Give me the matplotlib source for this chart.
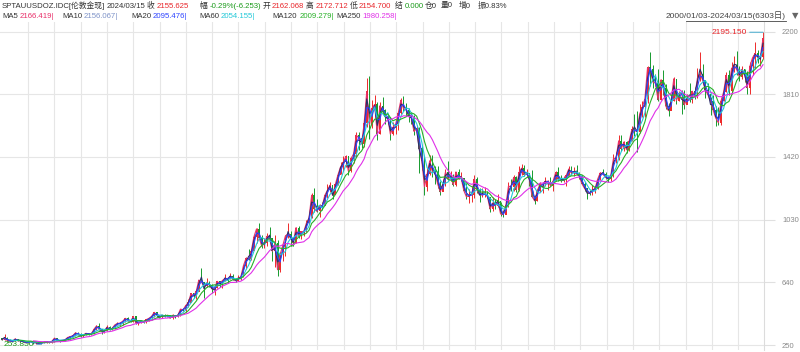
import numpy as np
import pandas as pd
import matplotlib
matplotlib.use('Agg')
import matplotlib.pyplot as plt
from matplotlib.lines import Line2D

# ---------------- data (monthly OHLC, 2000-01 .. 2024-03) -------------
months = pd.period_range('2000-01', '2024-03', freq='M')

close = [
    283, 293, 278, 275, 272, 288, 276, 277, 273, 264, 269, 272,
    265, 267, 258, 264, 267, 270, 266, 273, 293, 279, 275, 279,
    282, 297, 302, 308, 326, 318, 305, 312, 323, 317, 318, 347,
    368, 348, 335, 337, 361, 346, 354, 375, 384, 386, 398, 416,
    401, 396, 426, 387, 393, 395, 391, 408, 416, 428, 453, 438,
    422, 436, 428, 435, 417, 435, 429, 434, 473, 469, 495, 513,
    569, 556, 582, 654, 643, 614, 633, 623, 599, 604, 646, 632,
    651, 665, 662, 679, 659, 650, 666, 673, 743, 789, 783, 834,
    923, 972, 916, 864, 885, 926, 912, 833, 880, 718, 814, 869,
    928, 942, 916, 883, 979, 927, 955, 955, 1008, 1040, 1182, 1096,
    1081, 1118, 1113, 1180, 1212, 1244, 1181, 1247, 1307, 1357, 1386, 1421,
    1332, 1410, 1439, 1556, 1536, 1500, 1628, 1826, 1620, 1722, 1746, 1564,
    1738, 1710, 1669, 1664, 1561, 1604, 1622, 1693, 1772, 1719, 1712, 1675,
    1664, 1578, 1596, 1472, 1393, 1234, 1312, 1396, 1327, 1323, 1253, 1202,
    1244, 1326, 1284, 1296, 1246, 1327, 1282, 1287, 1210, 1171, 1183, 1184,
    1283, 1213, 1183, 1184, 1190, 1172, 1095, 1134, 1115, 1142, 1065, 1061,
    1118, 1238, 1234, 1293, 1215, 1322, 1350, 1309, 1316, 1277, 1173, 1146,
    1211, 1249, 1249, 1268, 1268, 1242, 1269, 1322, 1280, 1271, 1275, 1303,
    1345, 1318, 1325, 1315, 1299, 1253, 1224, 1201, 1192, 1215, 1222, 1282,
    1321, 1313, 1292, 1284, 1305, 1409, 1413, 1520, 1472, 1513, 1464, 1517,
    1589, 1585, 1577, 1687, 1730, 1781, 1975, 1968, 1886, 1879, 1776, 1898,
    1848, 1734, 1707, 1769, 1906, 1770, 1814, 1813, 1743, 1783, 1774, 1829,
    1797, 1909, 1937, 1897, 1837, 1807, 1766, 1711, 1661, 1633, 1768, 1824,
    1928, 1827, 1969, 1990, 1962, 1919, 1965, 1940, 1849, 1983, 2036, 2063,
    2039, 2044, 2155.625,
]

high = [
    292, 316, 298, 290, 280, 294, 290, 280, 277, 274, 271, 274,
    272, 268, 268, 266, 275, 272, 270, 275, 296, 293, 280, 281,
    284, 299, 304, 310, 328, 330, 322, 315, 327, 325, 322, 350,
    372, 389, 352, 341, 373, 367, 359, 376, 390, 391, 399, 417,
    427, 409, 428, 428, 396, 398, 404, 410, 418, 434, 455, 457,
    429, 438, 445, 438, 436, 441, 429, 446, 473, 478, 496, 538,
    572, 572, 586, 654, 730, 642, 664, 650, 632, 610, 649, 649,
    657, 690, 672, 695, 692, 667, 683, 679, 744, 795, 845, 838,
    935, 975, 1011, 934, 918, 944, 986, 917, 935, 905, 826, 880,
    934, 1006, 958, 920, 982, 990, 960, 960, 1025, 1072, 1195, 1226,
    1161, 1128, 1138, 1182, 1249, 1265, 1208, 1251, 1308, 1388, 1424, 1431,
    1424, 1412, 1448, 1575, 1577, 1556, 1632, 1913, 1921, 1772, 1804, 1763,
    1763, 1792, 1717, 1678, 1665, 1640, 1628, 1693, 1788, 1796, 1755, 1723,
    1694, 1683, 1617, 1604, 1487, 1424, 1348, 1434, 1434, 1361, 1362, 1267,
    1280, 1345, 1392, 1331, 1315, 1327, 1345, 1324, 1287, 1255, 1221, 1239,
    1307, 1297, 1224, 1224, 1232, 1205, 1171, 1170, 1157, 1191, 1142, 1088,
    1127, 1263, 1283, 1306, 1303, 1362, 1375, 1367, 1344, 1318, 1338, 1183,
    1220, 1264, 1261, 1295, 1274, 1296, 1270, 1331, 1357, 1306, 1299, 1307,
    1366, 1361, 1356, 1369, 1326, 1309, 1266, 1221, 1214, 1243, 1237, 1284,
    1326, 1346, 1324, 1301, 1306, 1439, 1453, 1555, 1557, 1519, 1516, 1525,
    1611, 1689, 1704, 1747, 1765, 1789, 1984, 2075, 1992, 1933, 1966, 1906,
    1959, 1872, 1756, 1798, 1916, 1903, 1832, 1834, 1836, 1814, 1877, 1830,
    1853, 1975, 2070, 1998, 1870, 1879, 1790, 1807, 1735, 1730, 1786, 1833,
    1949, 1960, 2009, 2049, 2079, 1984, 1987, 1966, 1953, 2009, 2052, 2135,
    2088, 2052, 2195.150,
]

low = [
    280, 282, 275, 272, 270, 272, 275, 270, 266, 263, 262, 267,
    255, 255, 256, 253.850, 262, 264, 263, 264, 271, 272, 270, 272,
    277, 281, 289, 299, 306, 312, 301, 301, 312, 312, 314, 317,
    343, 345, 319, 324, 337, 343, 342, 351, 373, 370, 375, 396,
    399, 393, 394, 381, 372, 386, 387, 389, 399, 411, 423, 425,
    416, 418, 426, 423, 415, 414, 417, 426, 433, 459, 456, 489,
    516, 541, 537, 583, 644, 543, 608, 613, 573, 560, 604, 612,
    603, 646, 635, 662, 654, 640, 648, 653, 671, 722, 776, 778,
    846, 882, 907, 853, 851, 867, 902, 772, 736, 681, 705, 770,
    802, 918, 865, 865, 883, 918, 908, 931, 951, 1003, 1039, 1075,
    1076, 1045, 1087, 1123, 1166, 1203, 1157, 1192, 1243, 1313, 1331, 1357,
    1309, 1328, 1381, 1420, 1462, 1478, 1482, 1603, 1534, 1600, 1668, 1523,
    1564, 1688, 1627, 1627, 1527, 1554, 1564, 1588, 1686, 1703, 1672, 1636,
    1626, 1555, 1562, 1321, 1338, 1180, 1207, 1310, 1292, 1251, 1227, 1180,
    1224, 1242, 1277, 1268, 1240, 1240, 1281, 1273, 1206, 1160, 1131, 1142,
    1167, 1198, 1142, 1170, 1170, 1162, 1077, 1081, 1098, 1111, 1052, 1046,
    1062, 1107, 1208, 1209, 1200, 1208, 1310, 1302, 1303, 1241, 1171, 1124,
    1146, 1200, 1195, 1241, 1214, 1237, 1205, 1267, 1271, 1261, 1264, 1237,
    1302, 1307, 1303, 1310, 1282, 1251, 1211, 1160, 1180, 1183, 1196, 1221,
    1276, 1311, 1281, 1266, 1267, 1298, 1382, 1400, 1459, 1459, 1445, 1456,
    1517, 1547, 1451, 1568, 1670, 1671, 1757, 1863, 1849, 1860, 1765, 1776,
    1803, 1717, 1677, 1720, 1766, 1751, 1767, 1688, 1721, 1746, 1764, 1753,
    1780, 1786, 1890, 1872, 1787, 1805, 1681, 1709, 1615, 1617, 1616, 1765,
    1824, 1805, 1810, 1950, 1932, 1893, 1902, 1885, 1810, 1810, 1931, 1973,
    2002, 1985, 2030,
]

first_open = 289
yticks = [250, 640, 1030, 1420, 1810, 2200]

ma_names = ['MA5', 'MA10', 'MA20', 'MA60', 'MA120', 'MA250']
ma_values = ['2166.419', '2156.067', '2095.476', '2054.155', '2009.279', '1980.258']

# ---------------- styling ----------------
FAM = ['Liberation Sans', 'Noto Sans CJK SC', 'DejaVu Sans']
plt.rcParams['font.family'] = FAM
UP = '#ee2a2a'
DOWN = '#169a2e'
DARK = '#333333'
RED = '#e8262b'
GREEN = '#1a9a1a'
ma_colors = ['#e8306a', '#2a2f6a', '#2f45ff', '#22c8d8', '#28b028', '#e030e8']
ma_windows = [1, 1, 2, 4, 7, 13]

c = np.array(close, float)
h = np.array(high, float)
l = np.array(low, float)
o = np.concatenate([[first_open], c[:-1]])
n = len(c)
idx = np.arange(n)

fig = plt.figure(figsize=(8, 3.52), dpi=100)
ax = fig.add_axes([0, 2 / 352, 764 / 800, 328 / 352])

sx = 761 / (n - 1)
ax.set_xlim(-2 / sx, 762 / sx)
ax.set_ylim(250 - 5 * 390 / 62.7, 250 + 323 * 390 / 62.7)

# grid
for k in range(28):
    px = 28 + 26.3 * k
    ax.axvline((px - 2) / sx, color='#e6e6e6', lw=0.8, zorder=0)
ax.set_yticks(yticks)
ax.set_yticklabels([str(v) for v in yticks])
ax.yaxis.tick_right()
ax.tick_params(axis='y', length=8, width=0.8, color='#e0e0e0', pad=5,
               labelsize=5.5, labelcolor='#8a8a8a')
ax.grid(axis='y', color='#e6e6e6', lw=0.8, zorder=0)
ax.set_xticks([])
for s in ['top', 'left', 'bottom']:
    ax.spines[s].set_visible(False)
ax.spines['right'].set_color('#dcdcdc')
ax.spines['right'].set_linewidth(0.8)

# candles
up = c >= o
cols = np.where(up, UP, DOWN)
ax.vlines(idx, l, h, colors=cols, lw=0.7, zorder=2)
ax.bar(idx, np.abs(c - o) + 1.5, bottom=np.minimum(c, o), width=0.65,
       color=cols, linewidth=0, zorder=3)

# moving averages
tp = (h + l + c) / 3
series = [c, tp, c, c, c, c]
for s, w, col in zip(series, ma_windows, ma_colors):
    m = pd.Series(s).rolling(w, min_periods=w).mean()
    ax.plot(idx, m, color=col, lw=0.8, zorder=4)

# max / min annotations
imax = int(np.argmax(h))
imin = int(np.argmin(l))
ax.annotate(f'{h[imax]:.3f}', xy=(imax, h[imax]), xytext=(-16, 0),
            textcoords='offset pixels', ha='right', va='center',
            fontsize=6, color=RED,
            arrowprops=dict(arrowstyle='-', color='#5ab4d4', lw=0.8,
                            shrinkA=0, shrinkB=0))
ax.annotate(f'{l[imin]:.3f}', xy=(imin, l[imin]), xytext=(-7, 0),
            textcoords='offset pixels', ha='right', va='center',
            fontsize=6, color=GREEN,
            arrowprops=dict(arrowstyle='-', color='#5ab4d4', lw=0.8,
                            shrinkA=0, shrinkB=0))

# header (tokens placed at reference x, pushed right only if they would overlap)
renderer = fig.canvas.get_renderer()

def row(tokens, y, size=5.6, gap=1.5):
    end = -1e9
    for s, x, col in tokens:
        xx = max(x, end + gap)
        txt = fig.text(xx / 800, 1 - y / 352, s, color=col, fontsize=size,
                       ha='left', va='center', family=FAM)
        bb = txt.get_window_extent(renderer=renderer)
        end = bb.x1

row1 = [('SPTAUUSDOZ.IDC[伦敦金现]', 2, DARK), ('2024/03/15', 102, DARK),
        ('收', 147, DARK), ('2155.625', 157, RED),
        ('幅', 200, DARK), ('-0.29%(-6.253)', 206, GREEN),
        ('开', 256, DARK), ('2162.068', 265, RED),
        ('高', 306, DARK), ('2172.712', 315, RED),
        ('低', 349, DARK), ('2154.700', 358, RED),
        ('结', 395, DARK), ('0.000', 403, GREEN),
        ('仓0', 423, DARK), ('量0', 441, DARK), ('增0', 459, DARK),
        ('振0.83%', 478, DARK)]
row(row1, 6)

name_x = [2, 62, 131, 199, 272, 335]
val_x = [19, 80, 152, 219, 300, 360]
ma_text_cols = ['#e8306a', '#7f93c8', '#2f45ff', '#22c8d8', '#28b028', '#e030e8']
row2 = []
for nm, v, nx, vx, col in zip(ma_names, ma_values, name_x, val_x, ma_text_cols):
    row2.append((nm, nx, DARK))
    row2.append((v + '|', vx, col))
row(row2, 17)

fig.text(786 / 800, 1 - 16 / 352, '2000/01/03-2024/03/15(6303日)',
         color='#444444', fontsize=6, ha='right', va='center', family=FAM)
fig.add_artist(Line2D([686 / 800, 786 / 800], [1 - 20.5 / 352, 1 - 20.5 / 352],
                      color='#444444', lw=0.6))
fig.text(795 / 800, 1 - 16 / 352, '▼', color='#666666', fontsize=6,
         ha='center', va='center', family=['DejaVu Sans'])

fig.savefig('out.png', dpi=100)
